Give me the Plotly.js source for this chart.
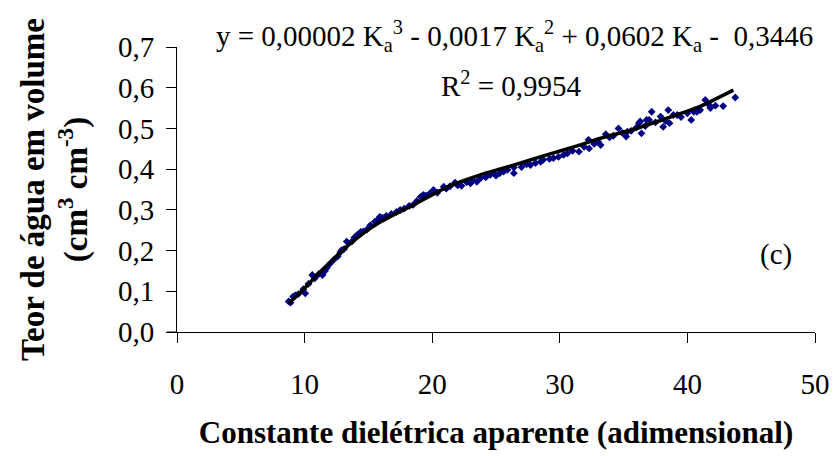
<!DOCTYPE html>
<html>
<head>
<meta charset="utf-8">
<script src="https://cdn.plot.ly/plotly-3.0.1.min.js"></script>
<style>html,body{margin:0;padding:0;background:#fff;}#chart{width:834px;height:456px;}</style>
</head>
<body>
<div id="chart"></div>
<script>
// Observed points: apparent dielectric constant (Ka) vs volumetric water content
const obsKa = [8.75, 8.9, 9.1, 9.27, 9.5, 9.9, 10.05, 10.3, 10.6, 10.8, 11.1, 11.4, 11.6, 11.75, 12.0, 12.3, 12.6, 12.8, 12.9, 13.1, 13.3, 13.7, 13.9, 14.1, 14.4, 14.6, 14.9, 15.15, 15.5, 15.7, 15.9, 16.1, 16.4, 16.8, 17.2, 17.5, 17.8, 18.2, 18.5, 18.8, 19.1, 19.3, 19.5, 19.8, 20.1, 20.4, 20.9, 21.1, 21.4, 21.8, 22.0, 22.3, 22.7, 23.0, 23.2, 23.5, 23.8, 24.2, 24.55, 24.8, 25.0, 25.3, 25.6, 25.9, 26.4, 26.4, 27.0, 27.4, 27.7, 28.1, 28.5, 28.7, 29.2, 29.5, 29.9, 30.3, 30.6, 31.0, 31.5, 31.9, 32.25, 32.3, 32.7, 33.0, 33.2, 33.6, 33.9, 34.2, 34.6, 34.9, 35.2, 35.3, 35.6, 36.0, 36.2, 36.3, 36.4, 36.7, 36.8, 37.0, 37.2, 37.5, 37.9, 38.1, 38.3, 38.5, 38.6, 38.9, 39.2, 39.5, 40.0, 40.3, 40.5, 40.75, 41.0, 41.4, 41.7, 41.8, 42.2, 42.8, 43.75];
const obsTheta = [0.075, 0.072, 0.087, 0.090, 0.093, 0.105, 0.095, 0.118, 0.140, 0.132, 0.142, 0.140, 0.150, 0.158, 0.168, 0.178, 0.186, 0.196, 0.201, 0.204, 0.222, 0.222, 0.232, 0.238, 0.246, 0.247, 0.252, 0.262, 0.271, 0.275, 0.283, 0.281, 0.285, 0.290, 0.295, 0.300, 0.303, 0.310, 0.312, 0.322, 0.332, 0.337, 0.335, 0.340, 0.349, 0.342, 0.357, 0.352, 0.358, 0.367, 0.360, 0.359, 0.368, 0.365, 0.373, 0.369, 0.378, 0.380, 0.386, 0.390, 0.384, 0.390, 0.394, 0.398, 0.390, 0.404, 0.405, 0.412, 0.410, 0.415, 0.418, 0.423, 0.425, 0.427, 0.430, 0.435, 0.439, 0.445, 0.443, 0.455, 0.472, 0.451, 0.462, 0.468, 0.459, 0.486, 0.478, 0.482, 0.500, 0.489, 0.480, 0.492, 0.494, 0.502, 0.513, 0.517, 0.488, 0.506, 0.521, 0.521, 0.541, 0.515, 0.529, 0.504, 0.518, 0.545, 0.513, 0.533, 0.533, 0.528, 0.537, 0.521, 0.541, 0.541, 0.545, 0.570, 0.558, 0.550, 0.556, 0.555, 0.576];

// Trend line
const fitKa = [8.75, 9.92, 11.23, 12.27, 13.32, 14.62, 15.93, 17.24, 18.54, 21.16, 23.77, 26.38, 28.99, 31.35, 33.2, 35.8, 38.4, 41.0, 43.6];
const fitTheta = [0.070, 0.105, 0.148, 0.179, 0.210, 0.243, 0.270, 0.292, 0.312, 0.356, 0.386, 0.410, 0.435, 0.457, 0.476, 0.498, 0.525, 0.554, 0.594];

const xTicks = [0, 10, 20, 30, 40, 50];
const yTicks = [0.0, 0.1, 0.2, 0.3, 0.4, 0.5, 0.6, 0.7];

const equationText = 'y = 0,00002 K<sub>a</sub><sup>3</sup> - 0,0017 K<sub>a</sub><sup>2</sup> + 0,0602 K<sub>a</sub> -  0,3446';
const r2Text = 'R<sup>2</sup> = 0,9954';
const panelLabel = '(c)';
const xTitle = 'Constante dielétrica aparente (adimensional)';
const yTitle = 'Teor de água em volume<br>(cm<sup>3</sup> cm<sup>-3</sup>)';

const serif = '"Liberation Serif", "Times New Roman", serif';

const traces = [
  {
    type: 'scatter', mode: 'markers', x: obsKa, y: obsTheta,
    marker: {symbol: 'diamond', size: 6, color: '#000080'},
    hoverinfo: 'x+y', showlegend: false
  },
  {
    type: 'scatter', mode: 'lines', x: fitKa, y: fitTheta,
    line: {color: '#000000', width: 3.5, shape: 'spline', smoothing: 0.6},
    hoverinfo: 'skip', showlegend: false
  }
];

const layout = {
  width: 834, height: 456,
  margin: {l: 177, r: 19, t: 47, b: 124, pad: 0},
  paper_bgcolor: '#ffffff', plot_bgcolor: '#ffffff',
  separators: ', ',
  font: {family: serif, color: '#000000', size: 29},
  showlegend: false,
  xaxis: {
    range: [0, 50], tickvals: xTicks, ticktext: xTicks.map(String),
    showgrid: false, zeroline: false,
    showline: true, linecolor: '#000000', linewidth: 1,
    ticks: 'outside', ticklen: 10, tickcolor: '#000000', tickwidth: 1,
    tickfont: {family: serif, size: 29, color: '#000000'},
    ticklabelstandoff: 16,
    title: {text: xTitle, font: {family: serif, size: 31, color: '#000000', weight: 'bold'}, standoff: 22}
  },
  yaxis: {
    range: [0, 0.7], tickvals: yTicks, tickformat: '.1f',
    showgrid: false, zeroline: false,
    showline: true, linecolor: '#000000', linewidth: 1,
    ticks: 'outside', ticklen: 10, tickcolor: '#000000', tickwidth: 1,
    tickfont: {family: serif, size: 29, color: '#000000'},
    ticklabelstandoff: 6,
    title: {text: yTitle, font: {family: serif, size: 33, color: '#000000', weight: 'bold'}, standoff: 20}
  },
  shapes: [
    {type: 'line', xref: 'paper', yref: 'paper', x0: -0.0157, x1: 0, y0: 0, y1: 0, line: {color: '#000000', width: 1}}
  ],
  annotations: [
    {text: equationText, xref: 'paper', yref: 'paper', x: 0.529, y: 1.04, xanchor: 'center', yanchor: 'middle', showarrow: false, font: {family: serif, size: 29, color: '#000000'}},
    {text: r2Text, xref: 'paper', yref: 'paper', x: 0.525, y: 0.87, xanchor: 'center', yanchor: 'middle', showarrow: false, font: {family: serif, size: 29, color: '#000000'}},
    {text: panelLabel, xref: 'x', yref: 'y', x: 46.97, y: 0.19, xanchor: 'center', yanchor: 'middle', showarrow: false, font: {family: serif, size: 29, color: '#000000'}}
  ]
};

Plotly.newPlot('chart', traces, layout, {displayModeBar: false, staticPlot: true});
</script>
</body>
</html>
